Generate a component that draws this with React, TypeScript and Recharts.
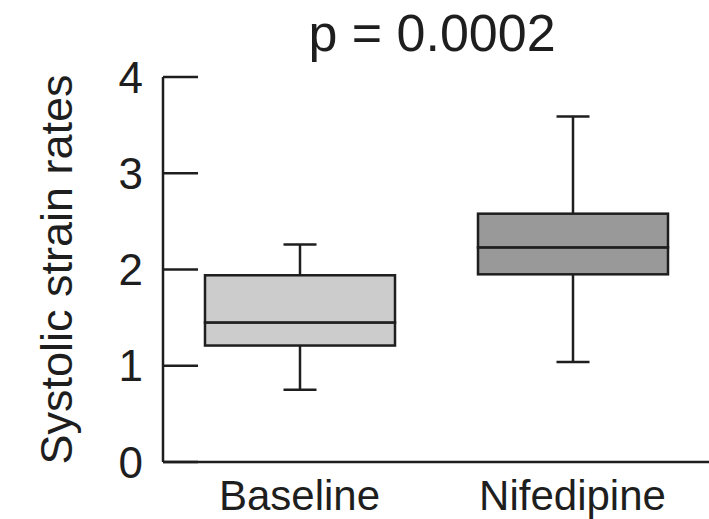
import React from 'react'
import { ComposedChart, Bar, XAxis, YAxis, Cell } from 'recharts'

const groups = ['Baseline', 'Nifedipine']
const mins = [0.75, 1.04]
const q1s = [1.21, 1.95]
const medians = [1.45, 2.23]
const q3s = [1.94, 2.58]
const maxs = [2.26, 3.59]
const boxFills = ['#cccccc', '#999999']
const yTicks = [0, 1, 2, 3, 4]

const INK = '#1e1e1e'
const FONT = '"Liberation Sans", Arial, sans-serif'

// stacked segments for each box
const data = groups.map((name, i) => ({
  name,
  base: mins[i],
  lowWhisker: q1s[i] - mins[i],
  lowBox: medians[i] - q1s[i],
  highBox: q3s[i] - medians[i],
  highWhisker: maxs[i] - q3s[i],
}))

const CAP = 33

const LowWhisker = (props: any) => {
  const { x, y, width, height } = props
  const cx = x + width / 2
  return (
    <g>
      <line x1={cx} x2={cx} y1={y} y2={y + height} stroke={INK} strokeWidth={2.5} />
      <line x1={cx - CAP / 2} x2={cx + CAP / 2} y1={y + height} y2={y + height} stroke={INK} strokeWidth={2.5} />
    </g>
  )
}

const HighWhisker = (props: any) => {
  const { x, y, width, height } = props
  const cx = x + width / 2
  return (
    <g>
      <line x1={cx} x2={cx} y1={y} y2={y + height} stroke={INK} strokeWidth={2.5} />
      <line x1={cx - CAP / 2} x2={cx + CAP / 2} y1={y} y2={y} stroke={INK} strokeWidth={2.5} />
    </g>
  )
}

const BoxPart = (props: any) => {
  const { x, y, width, height, fill } = props
  return <rect x={x} y={y} width={width} height={height} fill={fill} stroke={INK} strokeWidth={2.5} />
}

const YTick = (props: any) => {
  const { x, y, payload } = props
  return (
    <g>
      <line x1={x + 20} x2={x + 55} y1={y} y2={y} stroke={INK} strokeWidth={2.5} />
      <text x={x} y={y} dy="0.355em" textAnchor="end" fontSize={44} fontFamily={FONT} fill={INK}>
        {payload.value}
      </text>
    </g>
  )
}

const XTick = (props: any) => {
  const { x, y, payload } = props
  return (
    <text x={x} y={y} dy="0.71em" textAnchor="middle" fontSize={42} fontFamily={FONT} fill={INK}>
      {payload.value}
    </text>
  )
}

const YLabel = (props: any) => {
  const { viewBox } = props
  const cy = viewBox.y + viewBox.height / 2
  const x = 56
  return (
    <text
      x={x}
      y={cy}
      dy="0.35em"
      transform={`rotate(-90, ${x}, ${cy})`}
      textAnchor="middle"
      fontSize={45}
      fontFamily={FONT}
      fill={INK}
    >
      Systolic strain rates
    </text>
  )
}

export default function App() {
  return (
    <div style={{ position: 'absolute', left: 0, top: 0, width: 709, height: 519, background: '#fff' }}>
      <div
        style={{
          position: 'absolute',
          left: 182,
          top: 0,
          width: 500,
          textAlign: 'center',
          fontFamily: FONT,
          fontSize: 52,
          lineHeight: '66px',
          color: INK,
        }}
      >
        p = 0.0002
      </div>
      <ComposedChart width={709} height={519} data={data} margin={{ top: 77, right: 0, bottom: 0, left: 0 }}>
        <XAxis
          dataKey="name"
          height={57}
          axisLine={{ stroke: INK, strokeWidth: 2.5 }}
          tickLine={false}
          tickSize={0}
          tickMargin={18}
          tick={<XTick />}
        />
        <YAxis
          type="number"
          domain={[0, 4]}
          ticks={yTicks}
          width={163}
          axisLine={{ stroke: INK, strokeWidth: 2.5 }}
          tickLine={false}
          tickSize={0}
          tickMargin={20}
          tick={<YTick />}
          label={<YLabel />}
        />
        <Bar dataKey="base" stackId="box" barSize={190} fill="none" isAnimationActive={false} />
        <Bar dataKey="lowWhisker" stackId="box" barSize={190} shape={<LowWhisker />} isAnimationActive={false} />
        <Bar dataKey="lowBox" stackId="box" barSize={190} shape={<BoxPart />} isAnimationActive={false}>
          {data.map((d, i) => (
            <Cell key={`lo-${i}`} fill={boxFills[i]} />
          ))}
        </Bar>
        <Bar dataKey="highBox" stackId="box" barSize={190} shape={<BoxPart />} isAnimationActive={false}>
          {data.map((d, i) => (
            <Cell key={`hi-${i}`} fill={boxFills[i]} />
          ))}
        </Bar>
        <Bar dataKey="highWhisker" stackId="box" barSize={190} shape={<HighWhisker />} isAnimationActive={false} />
      </ComposedChart>
    </div>
  )
}
